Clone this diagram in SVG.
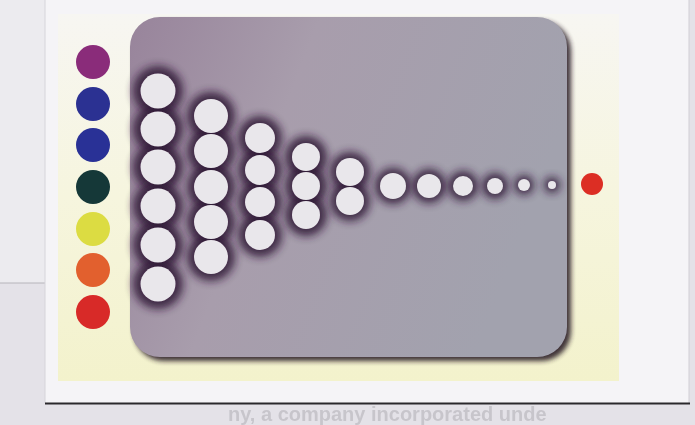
<svg xmlns="http://www.w3.org/2000/svg" width="695" height="425" viewBox="0 0 695 425">
  <defs>
    <filter id="blur" x="-50%" y="-50%" width="200%" height="200%">
      <feGaussianBlur stdDeviation="4.5"/>
    </filter>
    <filter id="sblur" x="-10%" y="-10%" width="120%" height="120%">
      <feGaussianBlur stdDeviation="2.5"/>
    </filter>
    <linearGradient id="panel" x1="0" y1="0" x2="1" y2="0.3">
      <stop offset="0" stop-color="#98849b"/>
      <stop offset="0.4" stop-color="#a89dac"/>
      <stop offset="1" stop-color="#a2a2ae"/>
    </linearGradient>
    <linearGradient id="yel" x1="0" y1="0" x2="0" y2="1">
      <stop offset="0" stop-color="#f7f6f2"/>
      <stop offset="0.5" stop-color="#f6f5de"/>
      <stop offset="1" stop-color="#f3f2cc"/>
    </linearGradient>
    <style>
      .halo { fill: #2e1436; opacity: 0.85; filter: url(#blur); }
      .w { fill: #e9e7eb; }
      .bt { font-family: "Liberation Sans", Arial, sans-serif; font-size: 20px; font-weight: bold; fill: #bcbac0; }
    </style>
  </defs>

  <!-- page background -->
  <rect x="0" y="0" width="695" height="425" fill="#e4e2e8"/>
  <rect x="0" y="0" width="46" height="283" fill="#ecebef"/>
  <line x1="0" y1="283" x2="46" y2="283" stroke="#b6b4ba" stroke-width="1"/>
  <text class="bt" x="228" y="421" opacity="0.7">ny, a company incorporated unde</text>

  <!-- card -->
  <g id="card">
    <rect x="45" y="0" width="644" height="403" fill="#f5f4f7"/>
    <line x1="45" y1="0" x2="45" y2="403" stroke="#d6d4da" stroke-width="1"/>
    <line x1="689" y1="0" x2="689" y2="403" stroke="#d0ced4" stroke-width="1"/>
    <line x1="45" y1="403.5" x2="690" y2="403.5" stroke="#2a282c" stroke-width="2"/>
    <rect x="58" y="14" width="561" height="367" fill="url(#yel)"/>
  </g>

  <!-- grey panel -->
  <g id="panel-box">
    <rect x="134" y="21" width="437" height="340" rx="30" fill="#2a1e26" filter="url(#sblur)" opacity="0.9"/>
    <rect x="130" y="17" width="437" height="340" rx="30" fill="url(#panel)"/>
  </g>

  <!-- legend dots -->
  <g id="legend">
    <circle cx="93" cy="62" r="17" fill="#8a2c7a"/>
    <circle cx="93" cy="104" r="17" fill="#2b3192"/>
    <circle cx="93" cy="145" r="17" fill="#293196"/>
    <circle cx="93" cy="187" r="17" fill="#153838"/>
    <circle cx="93" cy="229" r="17" fill="#dcdc42"/>
    <circle cx="93" cy="270" r="17" fill="#e2602e"/>
    <circle cx="93" cy="312" r="17" fill="#d82a28"/>
  </g>

  <!-- halos -->
  <g id="halos">
    <circle class="halo" cx="158" cy="91" r="25"/>
    <circle class="halo" cx="158" cy="129" r="25"/>
    <circle class="halo" cx="158" cy="167" r="25"/>
    <circle class="halo" cx="158" cy="206" r="25"/>
    <circle class="halo" cx="158" cy="245" r="25"/>
    <circle class="halo" cx="158" cy="284" r="25"/>
    <circle class="halo" cx="211" cy="116" r="24"/>
    <circle class="halo" cx="211" cy="151" r="24"/>
    <circle class="halo" cx="211" cy="187" r="24"/>
    <circle class="halo" cx="211" cy="222" r="24"/>
    <circle class="halo" cx="211" cy="257" r="24"/>
    <circle class="halo" cx="260" cy="138" r="22"/>
    <circle class="halo" cx="260" cy="170" r="22"/>
    <circle class="halo" cx="260" cy="202" r="22"/>
    <circle class="halo" cx="260" cy="235" r="22"/>
    <circle class="halo" cx="306" cy="157" r="21"/>
    <circle class="halo" cx="306" cy="186" r="21"/>
    <circle class="halo" cx="306" cy="215" r="21"/>
    <circle class="halo" cx="350" cy="172" r="20"/>
    <circle class="halo" cx="350" cy="201" r="20"/>
    <circle class="halo" cx="393" cy="186" r="18"/>
    <circle class="halo" cx="429" cy="186" r="17"/>
    <circle class="halo" cx="463" cy="186" r="15"/>
    <circle class="halo" cx="495" cy="186" r="13"/>
    <circle class="halo" cx="524" cy="185" r="10"/>
    <circle class="halo" cx="552" cy="185" r="8"/>
  </g>

  <!-- white dots -->
  <g id="col1">
    <circle class="w" cx="158" cy="91" r="17.5"/>
    <circle class="w" cx="158" cy="129" r="17.5"/>
    <circle class="w" cx="158" cy="167" r="17.5"/>
    <circle class="w" cx="158" cy="206" r="17.5"/>
    <circle class="w" cx="158" cy="245" r="17.5"/>
    <circle class="w" cx="158" cy="284" r="17.5"/>
  </g>
  <g id="col2">
    <circle class="w" cx="211" cy="116" r="17"/>
    <circle class="w" cx="211" cy="151" r="17"/>
    <circle class="w" cx="211" cy="187" r="17"/>
    <circle class="w" cx="211" cy="222" r="17"/>
    <circle class="w" cx="211" cy="257" r="17"/>
  </g>
  <g id="col3">
    <circle class="w" cx="260" cy="138" r="15"/>
    <circle class="w" cx="260" cy="170" r="15"/>
    <circle class="w" cx="260" cy="202" r="15"/>
    <circle class="w" cx="260" cy="235" r="15"/>
  </g>
  <g id="col4">
    <circle class="w" cx="306" cy="157" r="14"/>
    <circle class="w" cx="306" cy="186" r="14"/>
    <circle class="w" cx="306" cy="215" r="14"/>
  </g>
  <g id="col5">
    <circle class="w" cx="350" cy="172" r="14"/>
    <circle class="w" cx="350" cy="201" r="14"/>
  </g>
  <g id="row">
    <circle class="w" cx="393" cy="186" r="13"/>
    <circle class="w" cx="429" cy="186" r="12"/>
    <circle class="w" cx="463" cy="186" r="10"/>
    <circle class="w" cx="495" cy="186" r="8"/>
    <circle class="w" cx="524" cy="185" r="6"/>
    <circle class="w" cx="552" cy="185" r="4"/>
  </g>
  <g id="target">
    <circle cx="592" cy="184" r="11" fill="#dc2e24"/>
  </g>
</svg>
